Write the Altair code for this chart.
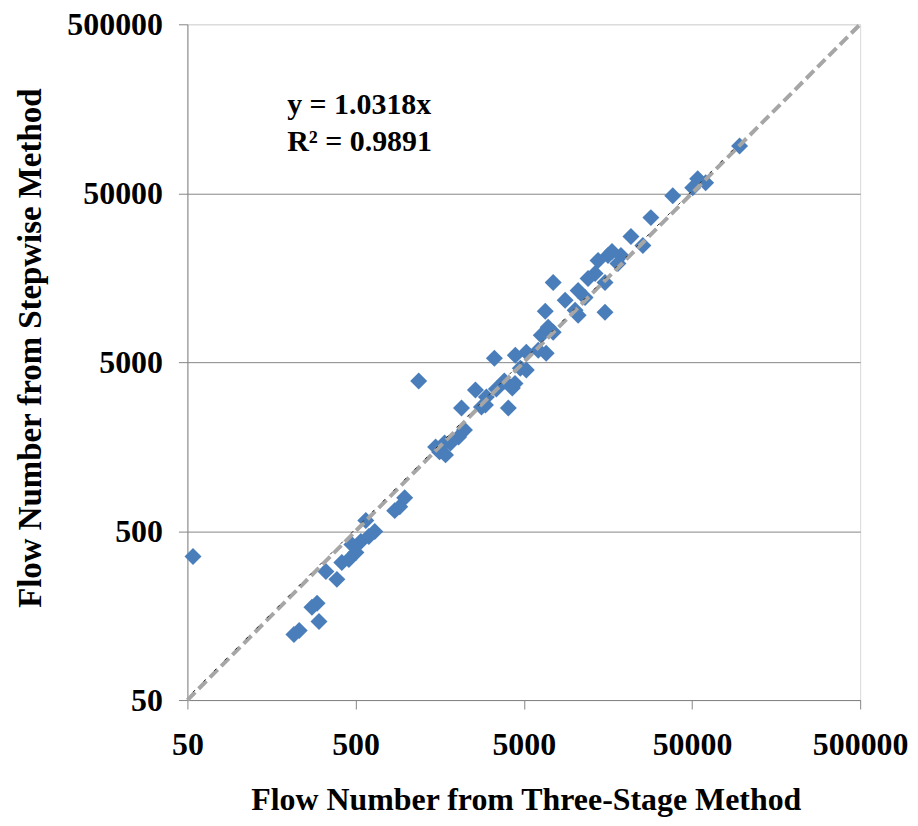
import altair as alt
import pandas as pd

# Flow numbers
flow_three_stage = [54, 215, 231, 275, 295, 303, 333, 387, 414, 456, 502, 537, 599, 650, 575,
                    854, 915, 979, 1186, 1495, 1578, 1713, 1834, 2047, 2220, 2131, 2580, 2958,
                    3436, 3343, 3831, 4047, 4274, 4453, 4767, 5175, 5175, 4435, 6094, 6796, 6350,
                    6707, 6985, 7480, 7480, 8809, 10094, 10519, 10519, 11570, 12050, 13265, 13820,
                    15200, 15200, 15835, 16730, 18150, 18910, 21680, 25530, 28480, 38440, 50510,
                    54070, 60300, 95940, 2800, 2996, 1690, 475]
flow_stepwise = [354, 122, 129, 177, 187, 146, 288, 259, 326, 340, 373, 434, 464, 497, 577,
                 661, 697, 788, 3864, 1576, 1472, 1413, 1664, 1805, 1986, 2677, 3419, 2787,
                 3465, 5282, 3864, 2677, 3512, 5497, 4608, 5727, 4487, 3743, 5886, 5650, 7216,
                 10000, 8044, 7516, 14826, 11610, 10134, 9472, 13300, 12090, 15650, 16750, 20000,
                 14826, 9860, 21386, 22580, 19185, 21386, 27690, 24500, 35860, 48330, 53900,
                 60870, 57640, 95300, 2714, 3108, 1664, 416]

tick_values = [50, 500, 5000, 50000, 500000]
ref_line_x = [50, 500000]
trend_slope = 1.0318
trend_range = [54, 96000]
eq_text = ["y = 1.0318x", "R² = 0.9891"]
eq_x = [196, 196]
eq_y = [147000, 89000]

points = pd.DataFrame({"x": flow_three_stage, "y": flow_stepwise})
ref = pd.DataFrame({"x": ref_line_x, "y": ref_line_x})
trend = pd.DataFrame({"x": trend_range, "y": [trend_slope * v for v in trend_range]})
eq = pd.DataFrame({"x": eq_x, "y": eq_y, "t": eq_text})

font = "Liberation Serif"
xscale = alt.Scale(type="log", domain=[50, 500000], nice=False)
yscale = alt.Scale(type="log", domain=[50, 500000], nice=False)

xaxis = alt.Axis(
    values=tick_values, format="d", grid=False,
    title="Flow Number from Three-Stage Method",
    titleFont=font, titleFontSize=32, titleFontWeight="bold", titleColor="black",
    titleX=339.5, titleY=110, titleBaseline="alphabetic", titleAlign="center",
    labelFont=font, labelFontSize=32, labelFontWeight="bold", labelColor="black",
    labelPadding=21, tickSize=9, tickColor="#868686", domainColor="#868686",
    labelFlush=False, labelOverlap=False,
)
yaxis = alt.Axis(
    values=tick_values, format="d", grid=True,
    gridColor=alt.condition("datum.value >= 500000", alt.value("#d9d9d9"), alt.value("#868686")),
    title="Flow Number from Stepwise Method",
    titleFont=font, titleFontSize=33, titleFontWeight="bold", titleColor="black",
    titleX=-147, titleY=324.5, titleBaseline="alphabetic", titleAlign="center",
    labelFont=font, labelFontSize=32, labelFontWeight="bold", labelColor="black",
    labelPadding=16, tickSize=9, tickColor="#868686", domainColor="#868686",
    labelFlush=False, labelOverlap=False,
)

pts = alt.Chart(points).mark_point(
    shape="diamond", filled=True, size=290, color="#4a7ebb", opacity=1
).encode(
    x=alt.X("x:Q", scale=xscale, axis=xaxis),
    y=alt.Y("y:Q", scale=yscale, axis=yaxis),
)

ref_line = alt.Chart(ref).mark_line(
    color="#a6a6a6", strokeWidth=4, strokeDash=[11, 5]
).encode(x=alt.X("x:Q", scale=xscale), y=alt.Y("y:Q", scale=yscale))

trend_line = alt.Chart(trend).mark_line(
    color="#303030", strokeWidth=1, strokeDash=[3, 12]
).encode(x=alt.X("x:Q", scale=xscale), y=alt.Y("y:Q", scale=yscale))

eq_txt = alt.Chart(eq).mark_text(
    font=font, fontSize=30, fontWeight="bold", color="black", align="left", baseline="alphabetic"
).encode(x=alt.X("x:Q", scale=xscale), y=alt.Y("y:Q", scale=yscale), text="t:N")

chart = alt.layer(pts, ref_line, trend_line, eq_txt).properties(
    width=675, height=678,
    autosize=alt.AutoSizeParams(type="none"),
    padding={"left": 180, "top": 15, "right": 50, "bottom": 117},
).configure_view(stroke="#d9d9d9", strokeWidth=1)

chart.save("out.html", embed_options={"renderer": "svg", "actions": False})
